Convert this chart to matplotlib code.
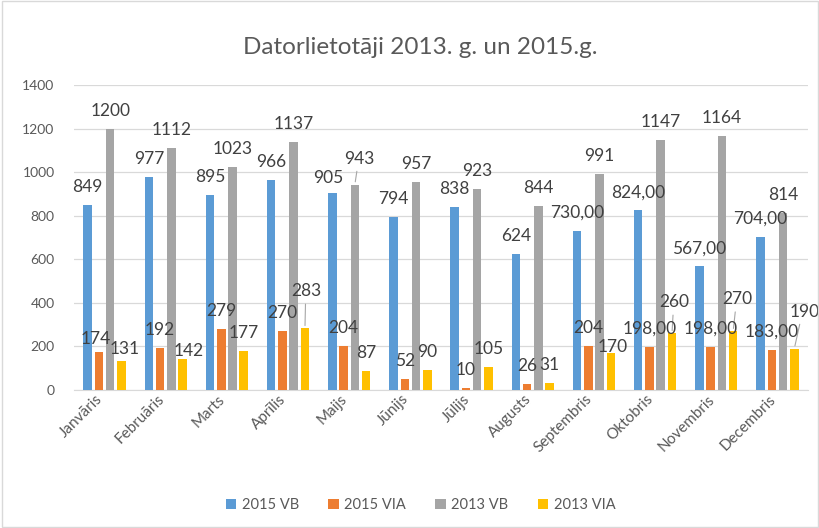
import numpy as np
import matplotlib.pyplot as plt
import matplotlib.transforms as mtransforms
from matplotlib.patches import Rectangle

plt.rcParams['font.family'] = ['Lato', 'DejaVu Sans']

# donnees du graphique
menesi = ['Janvāris', 'Februāris', 'Marts', 'Aprīlis', 'Maijs', 'Jūnijs',
          'Jūlijs', 'Augusts', 'Septembris', 'Oktobris', 'Novembris', 'Decembris']
serijas = ['2015 VB', '2015 VIA', '2013 VB', '2013 VIA']
vb_2015 = [849, 977, 895, 966, 905, 794, 838, 624, 730, 824, 567, 704]
via_2015 = [174, 192, 279, 270, 204, 52, 10, 26, 204, 198, 198, 183]
vb_2013 = [1200, 1112, 1023, 1137, 943, 957, 923, 844, 991, 1147, 1164, 814]
via_2013 = [131, 142, 177, 283, 87, 90, 105, 31, 170, 260, 270, 190]

# etiquettes telles qu'affichees (certaines avec ",00")
lab_vb_2015 = ['849', '977', '895', '966', '905', '794', '838', '624',
               '730,00', '824,00', '567,00', '704,00']
lab_via_2015 = ['174', '192', '279', '270', '204', '52', '10', '26',
                '204', '198,00', '198,00', '183,00']
lab_vb_2013 = [str(v) for v in vb_2013]
lab_via_2013 = [str(v) for v in via_2013]

couleurs = ['#5B9BD5', '#ED7D31', '#A5A5A5', '#FFC000']
gris_txt = '#595959'

series = [vb_2015, via_2015, vb_2013, via_2013]
labels = [lab_vb_2015, lab_via_2015, lab_vb_2013, lab_via_2013]

# decalages des etiquettes deplacees a la main (serie, mois): (dx, dy, ligne)
deplacees = {
    (1, 0): (-3, 13, False), (3, 0): (3, 12, False), (3, 1): (6, 8, False),
    (3, 3): (1, 37, True), (0, 4): (-4, 15, False), (2, 4): (4, 26, True),
    (3, 8): (2, 6, False), (3, 9): (2, 31, True), (3, 10): (4, 32, True),
    (3, 11): (10, 37, True),
}

fig = plt.figure(figsize=(8.2, 5.28), dpi=100)
ax = fig.add_axes([0.0902, 0.2614, 0.8952, 0.5776])

x = np.arange(len(menesi))
larg = 0.14
pas = 0.184
for i, (vals, labs) in enumerate(zip(series, labels)):
    pos = x + (i - 1.5) * pas
    ax.bar(pos, vals, width=larg, color=couleurs[i], label=serijas[i], zorder=3)
    for j in range(len(menesi)):
        dx, dy, ligne = deplacees.get((i, j), (0, 18, False))
        ax.annotate(labs[j], (pos[j], vals[j]), xytext=(dx, dy),
                    textcoords='offset pixels', ha='center', va='center',
                    fontsize=12.5, color='#404040', annotation_clip=False, zorder=6)
        if ligne:
            ax.annotate('', (pos[j], vals[j]), xytext=(dx * 0.6, dy - 10),
                        textcoords='offset pixels', zorder=5,
                        arrowprops=dict(arrowstyle='-', color='#A6A6A6', lw=0.8))

ax.set_xlim(-0.5, len(menesi) - 0.5)
ax.set_ylim(0, 1400)
ax.set_yticks(range(0, 1401, 200))
ax.grid(axis='y', color='#D9D9D9', lw=0.9, zorder=0)
for s in ['top', 'right', 'left']:
    ax.spines[s].set_visible(False)
ax.spines['bottom'].set_color('#D9D9D9')
ax.tick_params(axis='both', length=0, colors=gris_txt, labelsize=10)
ax.tick_params(axis='y', pad=14)
ax.set_xticks(x)
ax.set_xticklabels(menesi, rotation=45, ha='right', rotation_mode='anchor', fontsize=11)
ax.tick_params(axis='x', pad=3)
decal = mtransforms.ScaledTranslation(-9 / 100, 2 / 100, fig.dpi_scale_trans)
for t in ax.get_xticklabels():
    t.set_transform(t.get_transform() + decal)

fig.suptitle('Datorlietotāji 2013. g. un 2015.g.', x=0.512, y=0.93, fontsize=17.5,
             color=gris_txt)

fig.legend(*ax.get_legend_handles_labels(), loc='center', bbox_to_anchor=(0.513, 0.043),
           ncol=4, frameon=False, fontsize=10.5, handlelength=0.7, handleheight=0.7,
           columnspacing=2.0, handletextpad=0.4, labelcolor=gris_txt)

# cadre du graphique
fig.patches.append(Rectangle((0.002, 0.002), 0.996, 0.996, transform=fig.transFigure,
                             fill=False, edgecolor='#D9D9D9', lw=1))

plt.savefig('out.png', dpi=100)
